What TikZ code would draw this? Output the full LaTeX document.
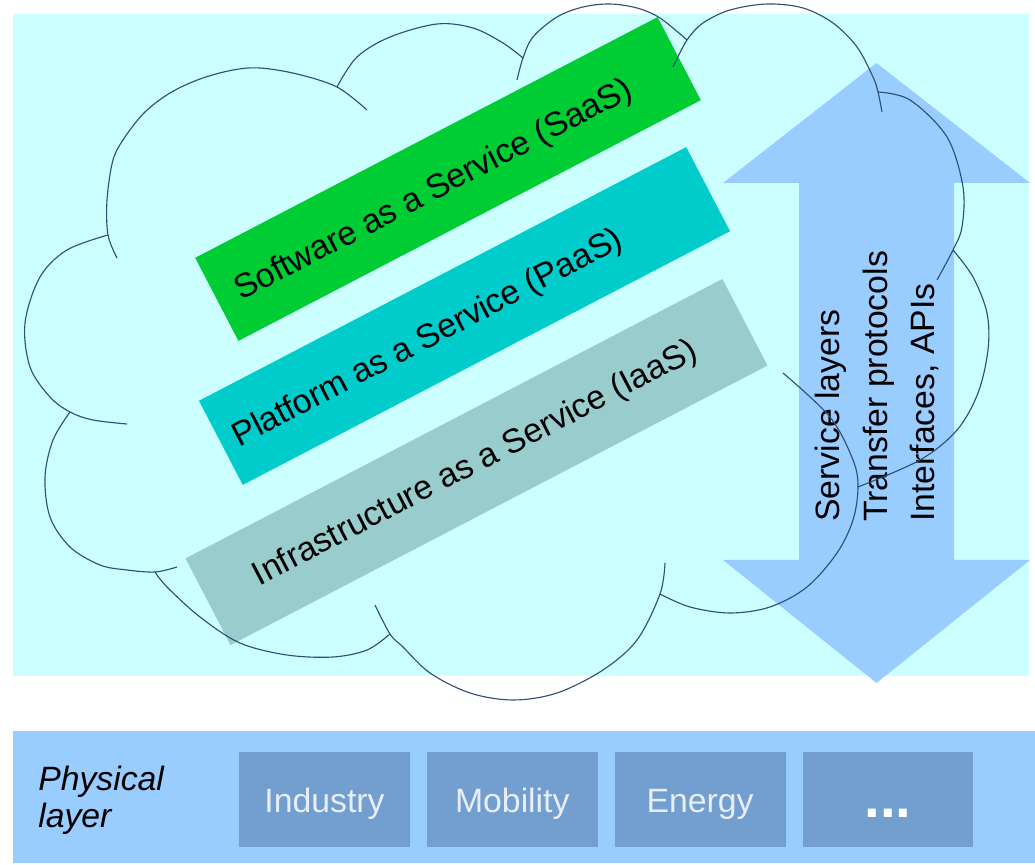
\documentclass[tikz,border=0pt]{standalone}
\usepackage{fontspec}
\setmainfont{Liberation Sans}
\usetikzlibrary{positioning}

\definecolor{bgcyan}{HTML}{CCFFFF}
\definecolor{saasgreen}{HTML}{00CC33}
\definecolor{paascyan}{HTML}{00CCCC}
\definecolor{iaasgray}{HTML}{99CCCC}
\definecolor{layerblue}{HTML}{99CCFF}
\definecolor{sectorblue}{HTML}{729FCF}
\definecolor{sectortext}{HTML}{E8EEF7}
\definecolor{cloudnavy}{HTML}{2F4F74}

\begin{document}
\begin{tikzpicture}[x=0.025cm, y=-0.025cm, %1 单位 = 1 像素, y 向下
    bar/.style={rotate=27.5, inner sep=0pt},
    bartext/.style={rotate=27.5, inner sep=0pt, font=\fontsize{24}{28}\selectfont},
    sector/.style={fill=sectorblue, text=sectortext, inner sep=0pt, minimum width=4.27cm,
        minimum height=2.375cm, text height=19pt, text depth=0pt, font=\fontsize{24}{28}\selectfont},
    cloudline/.style={draw=cloudnavy, line width=0.8pt, tension=0.55}]
    \useasboundingbox (0,0) rectangle (1035,865);
    \fill[bgcyan] (13,14) rectangle (1029,676); %背景
    % 三个服务层
    \node[bar, fill=saasgreen, minimum width=13.03cm, minimum height=2.34cm] (saas) at (448,179) {};
    \node[bar, fill=paascyan, minimum width=13.73cm, minimum height=2.37cm] (paas) at (464.5,316) {};
    \node[bar, fill=iaasgray, minimum width=15.13cm, minimum height=2.44cm] (iaas) at (476.5,462) {};
    \node[bartext] (saastext) at (434,191) {Software as a Service (SaaS)};
    \node[bartext] (paastext) at (428,339) {Platform as a Service (PaaS)};
    \node[bartext] (iaastext) at (475.5,464) {Infrastructure as a Service (IaaS)};
    % 双向箭头
    \fill[layerblue] (876.5,63) -- (1030,183) -- (954,183) -- (954,560) -- (1030,560) -- (876.5,683)
        -- (723,560) -- (799,560) -- (799,183) -- (723,183) -- cycle;
    \node[rotate=90, anchor=west, inner sep=0pt, align=left, font=\fontsize{24}{33.8}\selectfont] (layers)
        at (877,522) {Service layers\\Transfer protocols\\Interfaces, APIs};
    % 云朵轮廓, 每段一条弧
    \draw[cloudline] plot[smooth] coordinates {(117,258) (108,235) (107,200) (113,160) (125,137) (145,112) (170,93) (200,79) (233,70) (260,68) (297,74) (337,87) (367,110)};
    \draw[cloudline] plot[smooth] coordinates {(108,235) (67,250) (40,277) (25,323) (30,367) (50,397) (70,412) (93,420) (127,424)};
    \draw[cloudline] plot[smooth] coordinates {(70,412) (53,440) (45,477) (50,517) (70,547) (100,565) (127,570) (155,572) (177,567)};
    \draw[cloudline] plot[smooth] coordinates {(155,572) (167,587) (200,617) (240,643) (287,655) (333,657) (367,650) (390,634)};
    \draw[cloudline] plot[smooth] coordinates {(375,605) (390,634) (403,647) (430,673) (470,693) (513,700) (557,693) (603,670) (637,640) (660,594) (665,563)};
    \draw[cloudline] plot[smooth] coordinates {(660,594) (690,607) (730,613) (770,607) (807,587) (837,553) (853,520) (858,487) (853,460) (830,417) (783,373)};
    \draw[cloudline] plot[smooth] coordinates {(858,487) (920,460) (957,430) (978,393) (988,350) (987,313) (973,277) (953,250)};
    \draw[cloudline] plot[smooth] coordinates {(878,92) (910,100) (947,137) (963,187) (962,227) (953,250) (937,280)};
    \draw[cloudline] plot[smooth] coordinates {(673,67) (687,40) (703,23) (730,10) (767,4) (803,8) (833,23) (857,47) (873,77) (878,92) (882,112)};
    \draw[cloudline] plot[smooth] coordinates {(517,80) (523,58) (533,37) (557,17) (583,7) (610,4) (637,8) (660,18) (687,40)};
    \draw[cloudline] plot[smooth] coordinates {(337,87) (357,57) (390,37) (437,24) (473,28) (503,43) (523,58)};
    % 物理层
    \fill[layerblue] (13,731) rectangle (1035,863);
    \node[anchor=west, inner sep=0pt, align=left, font=\fontsize{24}{26.3}\selectfont\itshape] (physical)
        at (38,800) {Physical\\layer};
    \node[sector] (industry) at (324.5,799.5) {Industry};
    \node[sector, right=0.41cm of industry] (mobility) {Mobility};
    \node[sector, right=0.41cm of mobility] (energy) {Energy};
    \node[sector, right=0.41cm of energy, text=white, text height=26pt,
        font=\fontsize{40}{40}\selectfont\bfseries] (more) {...};
\end{tikzpicture}
\end{document}
